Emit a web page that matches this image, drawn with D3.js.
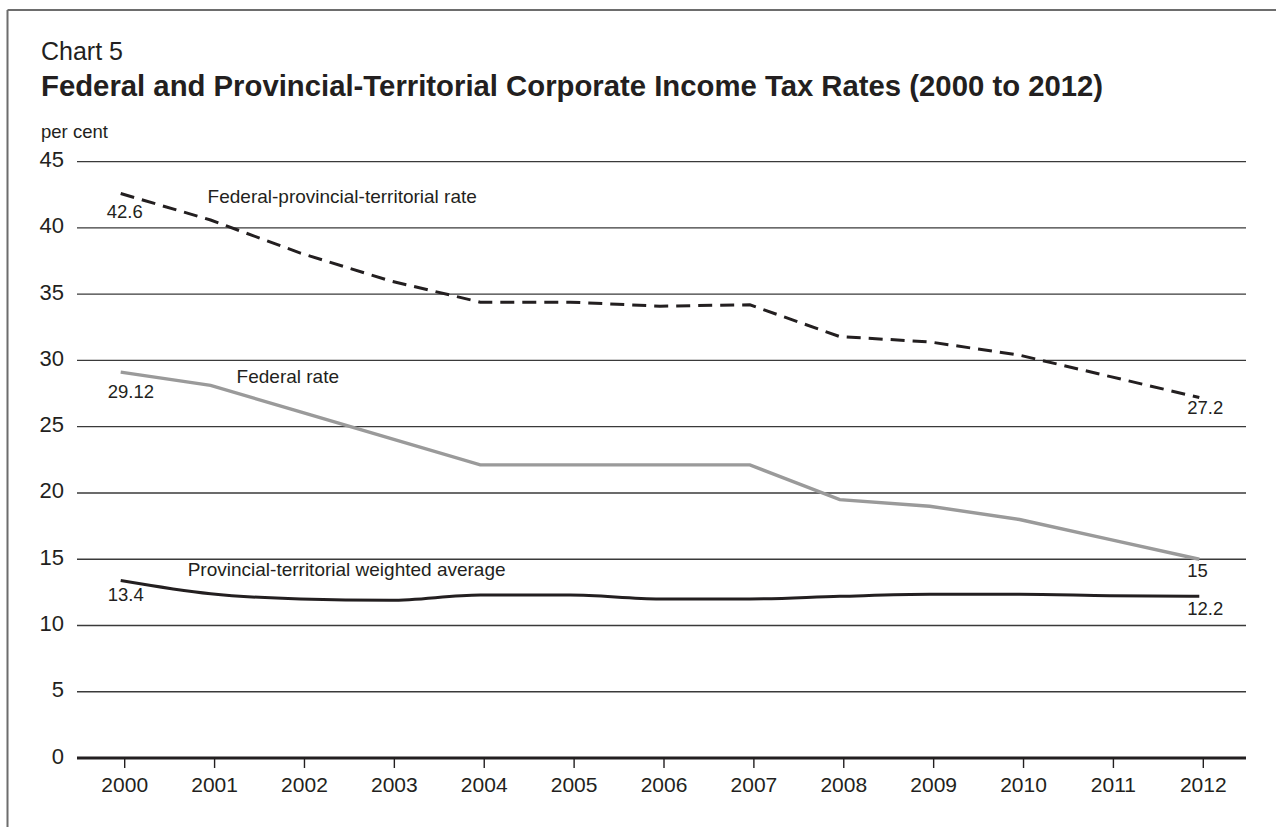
<!DOCTYPE html>
<html>
<head>
<meta charset="utf-8">
<script src="https://cdn.jsdelivr.net/npm/d3@7"></script>
<style>
  html, body { margin: 0; padding: 0; background: #fff; }
  svg { display: block; font-family: "Liberation Sans", Arial, Helvetica, sans-serif; }
</style>
</head>
<body>
<svg id="chart" width="1276" height="827"></svg>
<script>
// Corporate income tax rates, per cent
const years = [2000, 2001, 2002, 2003, 2004, 2005, 2006, 2007, 2008, 2009, 2010, 2011, 2012];
const combinedRate = [42.6, 40.6, 38.1, 36.0, 34.4, 34.4, 34.1, 34.2, 31.8, 31.4, 30.4, 28.8, 27.2];
const federalRate = [29.12, 28.12, 26.12, 24.12, 22.12, 22.12, 22.12, 22.12, 19.5, 19.0, 18.0, 16.5, 15.0];
const provincialAvg = [13.4, 12.4, 12.0, 11.9, 12.3, 12.3, 12.0, 12.0, 12.2, 12.35, 12.35, 12.25, 12.2];
const yTicks = [0, 5, 10, 15, 20, 25, 30, 35, 40, 45];

const chartLabel = "Chart 5";
const chartTitle = "Federal and Provincial-Territorial Corporate Income Tax Rates (2000 to 2012)";
const unitLabel = "per cent";
const seriesNames = ["Federal-provincial-territorial rate", "Federal rate", "Provincial-territorial weighted average"];

const svg = d3.select("#chart");
const ink = "#231f20";

// Frame: top and left rules
svg.append("line").attr("x1", 7.5).attr("x2", 1276).attr("y1", 10).attr("y2", 10)
  .attr("stroke", "#6d6d6d").attr("stroke-width", 2);
svg.append("line").attr("x1", 7.5).attr("x2", 7.5).attr("y1", 10).attr("y2", 827)
  .attr("stroke", "#6d6d6d").attr("stroke-width", 2);

// Headings
svg.append("text").attr("x", 41).attr("y", 60).attr("font-size", 25).attr("fill", ink).text(chartLabel);
svg.append("text").attr("x", 41).attr("y", 96).attr("font-size", 29.3).attr("font-weight", "bold")
  .attr("fill", ink).text(chartTitle);
svg.append("text").attr("x", 41).attr("y", 138).attr("font-size", 18.5).attr("fill", ink).text(unitLabel);

// Scales
const plotLeft = 77, plotRight = 1246;
const x = d3.scalePoint().domain(years).range([120.7, 1199.3]);
const tickShift = 3.5;
const y = d3.scaleLinear().domain([0, 45]).range([758, 161.7]);

// Gridlines
const grid = svg.append("g");
grid.selectAll("line").data(yTicks.filter(d => d !== 0)).join("line")
  .attr("x1", plotLeft).attr("x2", plotRight)
  .attr("y1", d => y(d)).attr("y2", d => y(d))
  .attr("stroke", "#3a3a3a").attr("stroke-width", 1.3);

// Y tick labels
svg.append("g").selectAll("text").data(yTicks).join("text")
  .attr("x", 64).attr("y", d => y(d)).attr("dy", "0.25em")
  .attr("text-anchor", "end").attr("font-size", 22).attr("fill", ink)
  .text(d => d);

// X axis
const xAxis = svg.append("g").attr("transform", `translate(${tickShift},${y(0)})`)
  .call(d3.axisBottom(x).tickSize(10).tickPadding(9).tickSizeOuter(0));
xAxis.select(".domain").remove();
xAxis.selectAll(".tick line").attr("stroke", ink).attr("stroke-width", 1.4);
xAxis.selectAll(".tick text").attr("font-size", 21).attr("fill", ink)
  .attr("font-family", "\"Liberation Sans\", Arial, sans-serif");
svg.append("line").attr("x1", plotLeft).attr("x2", plotRight).attr("y1", y(0)).attr("y2", y(0))
  .attr("stroke", ink).attr("stroke-width", 3);

// Series lines
const line = d3.line().x((d, i) => x(years[i])).y(d => y(d));
const smooth = d3.line().x((d, i) => x(years[i])).y(d => y(d)).curve(d3.curveMonotoneX);

svg.append("path").datum(federalRate).attr("d", line)
  .attr("fill", "none").attr("stroke", "#9a9a9a").attr("stroke-width", 3.4);
svg.append("path").datum(provincialAvg).attr("d", smooth)
  .attr("fill", "none").attr("stroke", ink).attr("stroke-width", 3);
svg.append("path").datum(combinedRate).attr("d", line)
  .attr("fill", "none").attr("stroke", ink).attr("stroke-width", 3)
  .attr("stroke-dasharray", "14 8");

// Series names
const nameSize = 19;
svg.append("text").attr("x", x(2001) - 3).attr("y", 203).attr("font-size", nameSize).attr("fill", ink).text(seriesNames[0]);
svg.append("text").attr("x", x(2001) + 26).attr("y", 383).attr("font-size", nameSize).attr("fill", ink).text(seriesNames[1]);
svg.append("text").attr("x", x(2000) + 67).attr("y", 576).attr("font-size", nameSize).attr("fill", ink).text(seriesNames[2]);

// End-point values
const valSize = 18.5;
const last = years.length - 1;
const endLabels = [
  { v: combinedRate[0], xi: 0, dx: -14, dy: 24 },
  { v: federalRate[0], xi: 0, dx: -13, dy: 26 },
  { v: provincialAvg[0], xi: 0, dx: -13, dy: 20.5 },
  { v: combinedRate[last], xi: last, dx: -12, dy: 16.5 },
  { v: federalRate[last], xi: last, dx: -12, dy: 18 },
  { v: provincialAvg[last], xi: last, dx: -12, dy: 18.5 }
];
svg.append("g").selectAll("text").data(endLabels).join("text")
  .attr("x", d => x(years[d.xi]) + d.dx)
  .attr("y", d => y(d.v) + d.dy)
  .attr("font-size", valSize).attr("fill", ink)
  .text(d => d.v);
</script>
</body>
</html>
